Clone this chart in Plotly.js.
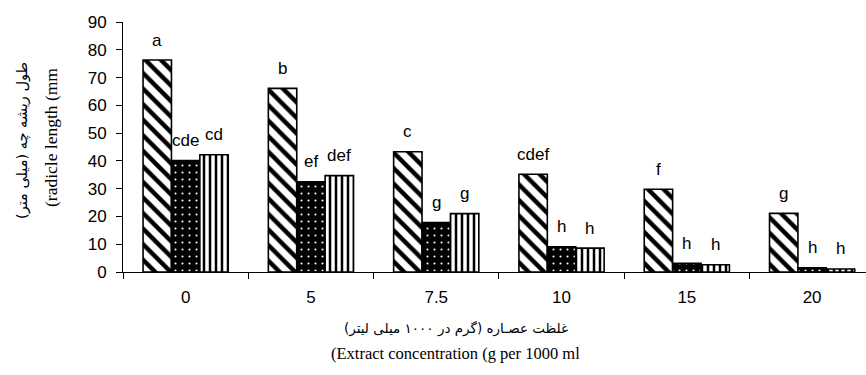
<!DOCTYPE html>
<html>
<head>
<meta charset="utf-8">
<script src="https://cdn.plot.ly/plotly-3.0.1.min.js"></script>
<style>html,body{margin:0;padding:0;background:#fff;}#chart{width:866px;height:375px;}</style>
</head>
<body>
<div id="chart"></div>
<script>
const categories = ['0', '5', '7.5', '10', '15', '20'];
const seriesHatched = [76.3, 66.1, 43.3, 35.2, 29.8, 21.1];
const seriesDotted = [40.1, 32.5, 17.8, 9.1, 3.1, 1.5];
const seriesStriped = [42.2, 34.7, 21.0, 8.6, 2.6, 1.1];
const lettersHatched = ['a', 'b', 'c', 'cdef', 'f', 'g'];
const lettersDotted = ['cde', 'ef', 'g', 'h', 'h', 'h'];
const lettersStriped = ['cd', 'def', 'g', 'h', 'h', 'h'];
const yTicks = [0, 10, 20, 30, 40, 50, 60, 70, 80, 90];
const yTitleFa = 'طول ریشه چه (میلی متر)';
const yTitleEn = '(radicle length (mm';
const xTitleFa = 'غلظت عصـاره (گرم در ۱۰۰۰ میلی لیتر)';
const xTitleEn = '(Extract concentration (g per 1000 ml';

const W = 866, H = 375, ML = 123, MR = 0, MT = 22, MB = 103;
const plotW = W - ML - MR, plotH = H - MT - MB;
const px2x = p => (p - ML) / plotW;
const px2y = p => (H - MB - p) / plotH;

const bargap = 0.32;
const barW = (1 - bargap) / 3;
const line = {color: '#000', width: 1.6};

const traces = [
  {type: 'bar', x: categories, y: seriesHatched,
   marker: {color: '#fff', line: line,
            pattern: {shape: '\\', fgcolor: '#000', bgcolor: '#fff', size: 11, solidity: 0.4}}},
  {type: 'bar', x: categories, y: seriesDotted,
   marker: {color: '#000', line: line,
            pattern: {shape: '.', fgcolor: '#fff', bgcolor: '#000', size: 7, solidity: 0.07}}},
  {type: 'bar', x: categories, y: seriesStriped,
   marker: {color: '#fff', line: line,
            pattern: {shape: '|', fgcolor: '#000', bgcolor: '#fff', size: 6, solidity: 0.42}}}
];

const annotations = [];
[[seriesHatched, lettersHatched, -1], [seriesDotted, lettersDotted, 0], [seriesStriped, lettersStriped, 1]].forEach(([vals, labs, k]) => {
  vals.forEach((v, i) => {
    annotations.push({x: i + k * barW, y: v, xref: 'x', yref: 'y', text: labs[i], showarrow: false,
      yshift: 20, yanchor: 'middle', xanchor: 'center',
      font: {family: 'Liberation Sans, Arial', size: 17, color: '#000'}});
  });
});
const faFont = {family: 'DejaVu Sans', size: 13.5, color: '#000'};
const enFont = {family: 'Liberation Serif, Times New Roman', size: 16.5, color: '#000'};
annotations.push({xref: 'paper', yref: 'paper', x: px2x(22), y: px2y(141), text: yTitleFa, textangle: -90,
  showarrow: false, xanchor: 'center', yanchor: 'middle', font: {...faFont, size: 14.5}});
annotations.push({xref: 'paper', yref: 'paper', x: px2x(51), y: px2y(138), text: yTitleEn, textangle: -90,
  showarrow: false, xanchor: 'center', yanchor: 'middle', font: {...enFont, size: 17.5}});
annotations.push({xref: 'paper', yref: 'paper', x: px2x(456), y: px2y(328), text: xTitleFa,
  showarrow: false, xanchor: 'center', yanchor: 'middle', font: faFont});
annotations.push({xref: 'paper', yref: 'paper', x: px2x(455), y: px2y(353), text: xTitleEn,
  showarrow: false, xanchor: 'center', yanchor: 'middle', font: enFont});

const layout = {
  width: W, height: H,
  margin: {l: ML, r: MR, t: MT, b: MB},
  paper_bgcolor: '#fff', plot_bgcolor: '#fff',
  showlegend: false,
  barmode: 'group', bargap: bargap, bargroupgap: 0,
  font: {family: 'Liberation Sans, Arial', size: 17, color: '#000'},
  xaxis: {type: 'category', range: [-0.5, 5.43], showline: true, linecolor: '#000', linewidth: 1,
          ticks: 'outside', tickson: 'boundaries', ticklen: 6, tickcolor: '#000', showgrid: false, zeroline: false,
          ticklabelstandoff: 10,
          tickfont: {family: 'Liberation Sans, Arial', size: 17}},
  yaxis: {range: [0, 90], tickvals: yTicks, showline: true, linecolor: '#000', linewidth: 1,
          ticks: 'outside', ticklen: 6, tickcolor: '#000', showgrid: false, zeroline: false,
          ticklabelstandoff: 6,
          tickfont: {family: 'Liberation Sans, Arial', size: 17}},
  annotations: annotations
};

Plotly.newPlot('chart', traces, layout, {displayModeBar: false, staticPlot: true});
</script>
</body>
</html>
